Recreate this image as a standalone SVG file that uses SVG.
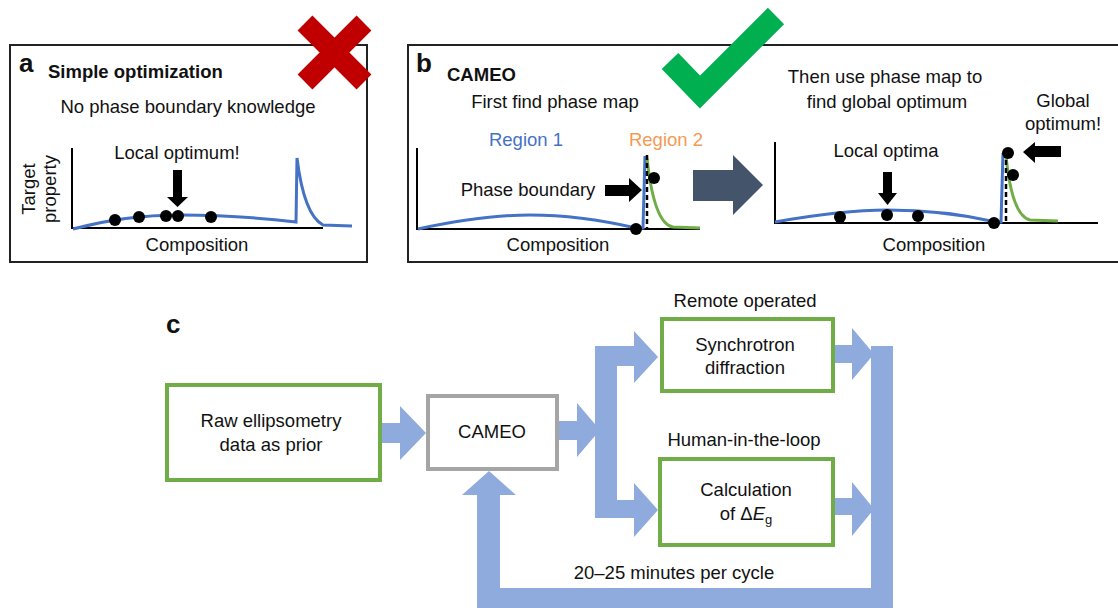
<svg xmlns="http://www.w3.org/2000/svg" width="1118" height="608" viewBox="0 0 1118 608">
<style>
text{font-family:"Liberation Sans",Arial,sans-serif;font-size:18.5px;fill:#111}
.b{font-weight:bold}
.lbl{font-weight:bold;font-size:26px}
.m{text-anchor:middle}
.frame{fill:none;stroke:#222;stroke-width:2}
.axis{fill:none;stroke:#000;stroke-width:2}
.blue{fill:none;stroke:#4472C4;stroke-width:3}
.green{fill:none;stroke:#70AD47;stroke-width:3}
.dash{stroke:#000;stroke-width:2.5;stroke-dasharray:5 3}
.dot{fill:#000}
.flow{fill:#8FAADC}
.gbox{fill:#fff;stroke:#70AD47;stroke-width:4}
.graybox{fill:#fff;stroke:#A5A5A5;stroke-width:4}
</style>

<!-- Panel a -->
<g id="panel-a">
  <rect class="frame" x="10" y="45" width="357" height="217"/>
  <text class="lbl" x="19" y="72">a</text>
  <text class="b" x="48" y="78">Simple optimization</text>
  <text class="m" x="188" y="113">No phase boundary knowledge</text>
  <text class="m" x="177" y="159">Local optimum!</text>
  <text class="m" transform="translate(35,189) rotate(-90)">Target</text>
  <text class="m" transform="translate(56,189) rotate(-90)">property</text>
  <text class="m" x="197" y="251">Composition</text>
  <path class="axis" d="M72,148 V228 H323"/>
  <path class="blue" d="M73,229 C110,219 150,215 180,215 C230,215 270,219 296,222 L297,158 Q304,215 323,225 L352,226"/>
  <circle class="dot" cx="115" cy="220" r="6"/>
  <circle class="dot" cx="139" cy="217" r="6"/>
  <circle class="dot" cx="166" cy="216" r="6"/>
  <circle class="dot" cx="178" cy="216" r="6"/>
  <circle class="dot" cx="211" cy="217" r="6"/>
  <polygon class="dot" points="173,170 182,170 182,197 188,197 177.5,207 167,197 173,197"/>
</g>

<!-- Panel b -->
<g id="panel-b">
  <rect class="frame" x="408" y="45" width="720" height="217"/>
  <text class="lbl" x="416" y="72">b</text>
  <text class="b" x="447" y="81">CAMEO</text>
  <text class="m" x="555" y="108">First find phase map</text>
  <text class="m" x="526" y="146" style="fill:#4472C4">Region 1</text>
  <text class="m" x="666" y="146" style="fill:#F39A55">Region 2</text>
  <text class="m" x="528" y="196">Phase boundary</text>
  <text class="m" x="558" y="251">Composition</text>
  <path class="axis" d="M417,148 V229 H700"/>
  <path class="blue" d="M418,229 C460,220 500,215 530,215 C570,215 610,222 636,228 L643,228 L645,156"/>
  <path class="green" d="M647,158 Q654,224 673,227 L700,228"/>
  <line class="dash" x1="647" y1="155" x2="647" y2="229"/>
  <circle class="dot" cx="636" cy="229" r="6"/>
  <circle class="dot" cx="654" cy="178" r="6"/>
  <polygon class="dot" points="605,185 629,185 629,178 642,190 629,202 629,196 605,196"/>

  <polygon points="693,170 733,170 733,155 763,185 733,215 733,201 693,201" style="fill:#44546A"/>

  <text class="m" x="885" y="83">Then use phase map to</text>
  <text class="m" x="887" y="108">find global optimum</text>
  <text class="m" x="1063" y="107">Global</text>
  <text class="m" x="1063" y="130">optimum!</text>
  <text class="m" x="886" y="157">Local optima</text>
  <text class="m" x="934" y="251">Composition</text>
  <path class="axis" d="M775,142 V223 H1098"/>
  <path class="blue" d="M775,222 C820,214 860,210 887,210 C930,210 970,216 996,222 L1001,222 L1003,153"/>
  <path class="green" d="M1006,156 Q1012,216 1030,220 L1058,221"/>
  <line class="dash" x1="1006" y1="152" x2="1006" y2="223"/>
  <circle class="dot" cx="840" cy="217" r="6"/>
  <circle class="dot" cx="887" cy="215" r="6"/>
  <circle class="dot" cx="918" cy="216" r="6"/>
  <circle class="dot" cx="994" cy="223" r="6"/>
  <circle class="dot" cx="1008" cy="153" r="6"/>
  <circle class="dot" cx="1013" cy="175" r="6"/>
  <polygon class="dot" points="883,172 892,172 892,193 897,193 887.5,205 878,193 883,193"/>
  <polygon class="dot" points="1061,146 1035,146 1035,142 1023,152 1035,163 1035,157 1061,157"/>
</g>

<!-- Marks -->
<g id="mark-x">
  <path d="M305,23 L364,82 M364,23 L305,82" style="stroke:#C00000;stroke-width:21;fill:none"/>
</g>
<g id="mark-check">
  <polyline points="670,61 700,92 776,16" style="stroke:#00B050;stroke-width:23;fill:none;stroke-linejoin:miter"/>
</g>

<!-- Panel c -->
<text class="lbl" x="166" y="333">c</text>

<g id="connectors">
  <polygon class="flow" points="382,423 400,423 400,406 426,433 400,460 400,443 382,443"/>
  <polygon class="flow" points="559,421 577,421 577,403 600,430 577,457 577,440 559,440"/>
  <rect class="flow" x="595" y="346" width="22" height="172"/>
  <polygon class="flow" points="595,346 634,346 634,331 658,357 634,383 634,366 595,366"/>
  <polygon class="flow" points="595,500 634,500 634,483 658,510 634,537 634,518 595,518"/>
  <polygon class="flow" points="832,345 852,345 852,328 874,354 852,380 852,363 832,363"/>
  <polygon class="flow" points="832,498 852,498 852,482 874,509 852,536 852,515 832,515"/>
  <rect class="flow" x="871" y="346" width="22" height="262"/>
  <rect class="flow" x="477" y="588" width="416" height="20"/>
  <polygon class="flow" points="477,608 477,495 462,495 489,471 516,495 500,495 500,608"/>
</g>

<g id="node-raw">
  <rect class="gbox" x="167" y="385" width="213" height="95"/>
  <text class="m" x="271" y="427">Raw ellipsometry</text>
  <text class="m" x="271" y="451">data as prior</text>
</g>
<g id="node-cameo">
  <rect class="graybox" x="428" y="396" width="129" height="73"/>
  <text class="m" x="492" y="438">CAMEO</text>
</g>
<g id="node-sync">
  <text class="m" x="745" y="307">Remote operated</text>
  <rect class="gbox" x="662" y="319" width="171" height="72"/>
  <text class="m" x="745" y="351">Synchrotron</text>
  <text class="m" x="745" y="374">diffraction</text>
</g>
<g id="node-calc">
  <text class="m" x="744" y="446">Human-in-the-loop</text>
  <rect class="gbox" x="660" y="459" width="173" height="86"/>
  <text class="m" x="746" y="496">Calculation</text>
  <text class="m" x="746" y="520">of Δ<tspan font-style="italic">E</tspan><tspan font-size="13" dy="4">g</tspan></text>
</g>
<text class="m" x="674" y="579">20–25 minutes per cycle</text>
</svg>
